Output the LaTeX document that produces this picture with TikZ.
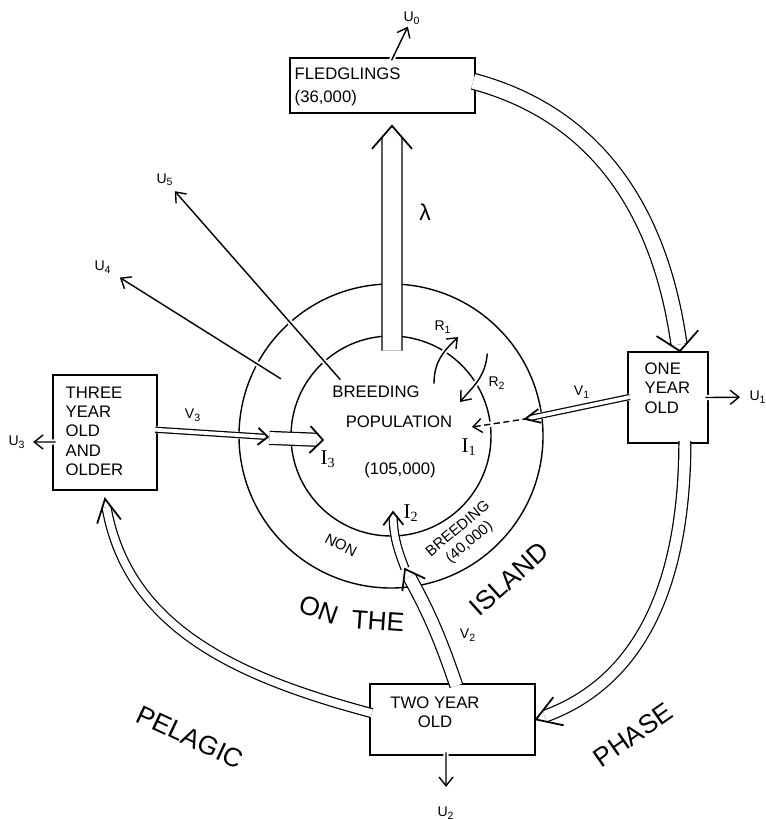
\documentclass[tikz,border=0pt]{standalone}
\usepackage{fontspec}
\setmainfont{Liberation Sans}
\newfontfamily\romanfont{Liberation Serif}
\usetikzlibrary{arrows.meta}
\usetikzlibrary{decorations.markings}

\newcommand{\sbs}[1]{\textsubscript{#1}}

\begin{document}
\begin{tikzpicture}[x=0.02cm, y=0.02cm, line width=0.8pt]

  \tikzstyle{box} = [draw, line width=0.9pt, inner sep=0pt];
  \tikzstyle{boxText} = [font=\fontsize{9.5}{11}\selectfont, align=left, inner sep=0pt, anchor=north west];
  \tikzstyle{outflow} = [-{Straight Barb[length=5pt,width=8pt]}, shorten <=-2pt, preaction={draw=white, solid, line width=3pt, -}];
  \tikzstyle{tipLines} = [solid, line width=1pt, shorten >=0pt, shorten <=0pt, -];
  \tikzstyle{sym} = [font=\fontsize{8}{9}\selectfont, inner sep=1pt];
  \tikzstyle{inSym} = [font=\romanfont\fontsize{12}{12}\selectfont, inner sep=1pt];
  \tikzstyle{phase} = [font=\fontsize{15}{15}\selectfont, inner sep=0pt];
  \tikzstyle{ringText} = [font=\fontsize{8.5}{10}\selectfont, align=center, inner sep=0pt];
  \tikzstyle{centreText} = [font=\fontsize{9.5}{11}\selectfont, inner sep=0pt];
  \tikzset{pipe/.style n args={3}{line width=0.7pt, double, double distance={#1*0.567pt-0.7pt},
      shorten <=-1.5pt, shorten >={0.567pt*#1*#3/(2*#2)},
      preaction={draw=white, line width=4pt},
      postaction={decorate, decoration={markings,
        mark=at position 0.9995 with {\draw[tipLines] (-#3,#2) -- (0,0) -- (-#3,-#2);}}}}}

  \useasboundingbox (0,0) rectangle (766,-820);

  % breeding population and the non breeding ring
  \coordinate (centre) at (391,-436);
  \draw (centre) circle[radius=100];
  \draw (centre) circle[radius=152];

  % age classes
  \node[box, minimum width=3.7cm, minimum height=1.1cm] (fled) at (382.5,-85.5) {};
  \node[boxText] (fledText) at (294,-67) {FLEDGLINGS\\[2pt](36,000)};
  \node[box, minimum width=1.6cm, minimum height=1.82cm] (one) at (668,-397.5) {};
  \node[boxText] (oneText) at (644,-362) {ONE\\YEAR\\OLD};
  \node[box, minimum width=3.3cm, minimum height=1.42cm] (two) at (452.5,-719.5) {};
  \node[boxText, align=center, anchor=north] (twoText) at (435,-696) {TWO YEAR\\OLD};
  \node[box, minimum width=2.08cm, minimum height=2.3cm] (three) at (105,-432.5) {};
  \node[boxText] (threeText) at (65,-386) {THREE\\YEAR\\OLD\\AND\\OLDER};

  \node[centreText] (breeding) at (376,-392) {BREEDING};
  \node[centreText] (population) at (399,-422) {POPULATION};
  \node[centreText] (breedSize) at (400,-470) {(105,000)};
  \node[ringText, rotate=-27] (non) at (341,-545) {NON};
  \node[ringText, rotate=40] (nonBreeding) at (464,-536) {BREEDING\\(40,000)};

  \node[phase, rotate=-20] (on) at (319,-610) {ON};
  \node[phase, rotate=-4] (the) at (378,-621) {THE};
  \node[phase, rotate=42] (island) at (509,-579) {ISLAND};
  \node[phase, rotate=-25] (pelagic) at (190,-737) {PELAGIC};
  \node[phase, rotate=35] (phaseLbl) at (633,-735) {PHASE};

  % rate labels
  \node[sym] (u0) at (412,-18) {U\sbs{0}};
  \node[sym] (u1) at (758,-397) {U\sbs{1}};
  \node[sym] (u2) at (446,-813) {U\sbs{2}};
  \node[sym] (u3) at (17,-442) {U\sbs{3}};
  \node[sym] (u4) at (103,-267) {U\sbs{4}};
  \node[sym] (u5) at (165,-180) {U\sbs{5}};
  \node[sym] (v1) at (582,-392) {V\sbs{1}};
  \node[sym] (v2) at (468,-635) {V\sbs{2}};
  \node[sym] (v3) at (193,-415) {V\sbs{3}};
  \node[sym] (r1) at (443,-327) {R\sbs{1}};
  \node[sym] (r2) at (497,-383) {R\sbs{2}};
  \node[inSym] (i1) at (469,-447) {I\sbs{1}};
  \node[inSym] (i2) at (411,-513) {I\sbs{2}};
  \node[inSym] (i3) at (328,-459) {I\sbs{3}};
  \node[font=\fontsize{13}{13}\selectfont] (lam) at (425,-212) {λ};

  \coordinate (lamFoot) at (392,-348);
  \coordinate (v1Head) at (525,-419);
  \coordinate (i1Head) at (472,-427);
  \coordinate (v3Head) at (268,-437);
  \coordinate (v3Foot) at (272,-438);
  \coordinate (i3Head) at (323,-440);
  \coordinate (v2Head) at (405,-569);
  \coordinate (v2Foot) at (404,-566);
  \coordinate (i2Head) at (393,-512);
  \coordinate (u4Foot) at (278,-377);
  \coordinate (u5Foot) at (338,-377);
  \coordinate (r1Foot) at (434,-380);
  \coordinate (r1Head) at (458,-337);
  \coordinate (r2Foot) at (487,-357);
  \coordinate (r2Head) at (460,-402);

  % losses
  \draw[outflow] ([xshift=6pt]fled.north) -- (u0);
  \draw[outflow, shorten >=4pt] (one.east) -- (u1);
  \draw[outflow, shorten >=10pt] ([xshift=-3.7pt]two.south) -- (u2);
  \draw[outflow, shorten >=3pt] ([yshift=-5.4pt]three.west) -- (u3);
  \draw[outflow, shorten >=4pt] (u4Foot) -- (u4);
  \draw[outflow, shorten >=2pt] (u5Foot) -- (u5);
  \draw[outflow] (r1Foot) to[out=90, in=225] (r1Head);
  \draw[outflow] (r2Foot) to[out=265, in=50] (r2Head);
  \draw[outflow, dash pattern=on 3.5pt off 2pt] (v1Head) -- (i1Head);

  % transfers
  \draw[pipe={20}{20}{23}] (lamFoot) -- ([xshift=5.4pt,yshift=-6.8pt]fled.south);
  \draw[pipe={16}{21}{18}] ([yshift=2pt]fled.east) to[out=-15, in=98] ([xshift=6.8pt]one.north);
  \draw[pipe={12}{15}{24}] ([xshift=9.6pt]one.south) to[out=-90, in=20] (two.east);
  \draw[pipe={9}{12}{23}] ([yshift=4pt]two.west) to[out=165, in=-80] ([yshift=-4.5pt]three.south);
  \draw[pipe={5}{7}{15}] (one.west) -- (v1Head);
  \draw[pipe={13}{13.5}{13}] (v3Foot) -- (i3Head);
  \draw[pipe={5}{8.5}{10}] ([yshift=1.5pt]three.east) -- (v3Head);
  \draw[pipe={8}{10}{13}] (v2Foot) to[bend left=10] (i2Head);
  \draw[pipe={13}{13}{18}] ([xshift=1.7pt]two.north) to[bend right=5] (v2Head);

\end{tikzpicture}
\end{document}
